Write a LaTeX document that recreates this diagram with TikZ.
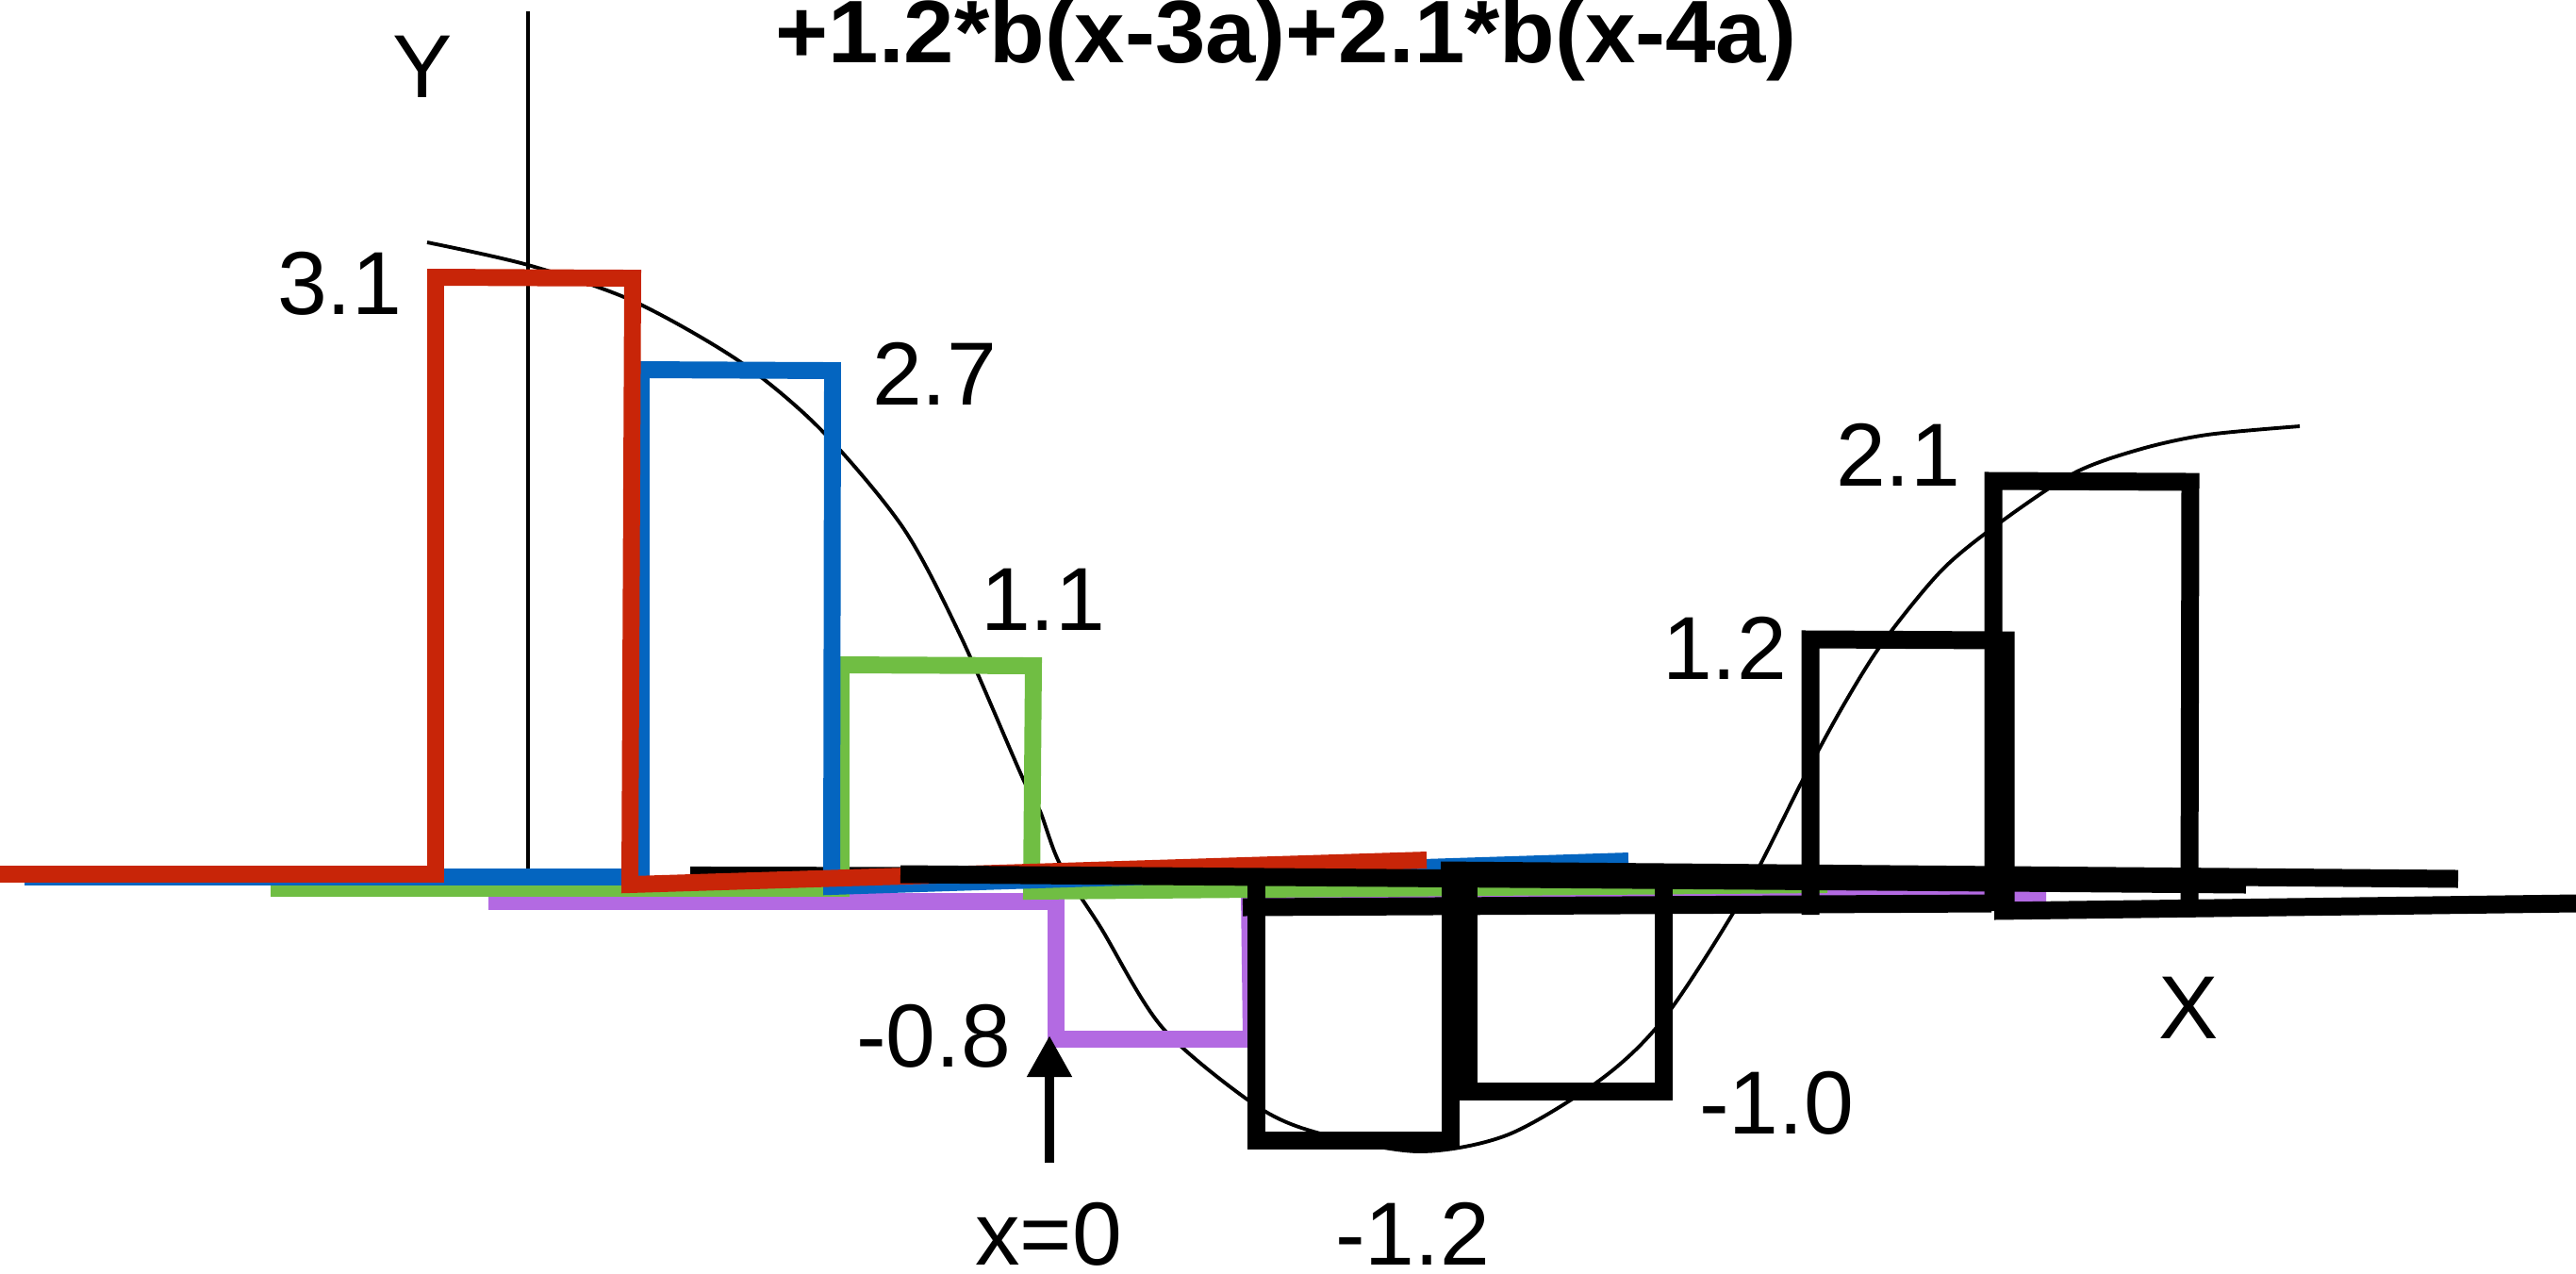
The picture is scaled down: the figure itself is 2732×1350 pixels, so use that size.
\documentclass[tikz,border=0pt]{standalone}
\usepackage{fontspec}
\setmainfont{Liberation Sans}
\usetikzlibrary{arrows.meta}
\definecolor{cred}{RGB}{200,37,8}
\definecolor{cblue}{RGB}{4,101,192}
\definecolor{cgreen}{RGB}{112,190,67}
\definecolor{cpurple}{RGB}{179,106,226}
\tikzset{
  lbl/.style={font=\fontsize{27}{32}\selectfont, inner sep=0pt, anchor=base},
  ttl/.style={font=\fontsize{25.5}{30}\selectfont\bfseries, inner sep=0pt, anchor=base},
  stepline/.style={line width=5.1pt, line join=miter},
  blackstep/.style={line width=5.4pt, line join=miter, black},
  thinline/.style={line width=1.1pt, black},
  pointer/.style={line width=3.1pt, -{Triangle[length=0.44cm,width=0.45cm]}}
}
\begin{document}
\begin{tikzpicture}[x=0.01cm,y=-0.01cm]
\useasboundingbox (0,0) rectangle (2732,1350);
\fill[white] (0,0) rectangle (2732,1350);

% axis and curve
\draw[thinline] (560,12) -- (560,946);
\draw[thinline] plot[smooth, tension=0.5] coordinates {
 (453,257) (560,281) (671,319) (784,383) (871,456) (958,560) (1019,675)
 (1085,826) (1103,860) (1124,916) (1167,983) (1233,1090) (1333,1173) (1400,1202)
 (1505,1221) (1600,1203) (1700,1143) (1767,1077) (1850,948) (1913,825)
 (1955,748) (1997,681) (2060,604) (2124,552) (2201,501) (2271,476) (2341,461) (2439,452)};

% thin black start of baseline
\draw[line width=2.6pt] (732,923.5) -- (955,924);

% purple step (-0.8)
\draw[stepline, cpurple] (518,956) -- (1120,956) -- (1120,1102) -- (1327,1102) -- (1325,950) -- (2170,953);
% green step (1.1)
\draw[stepline, cgreen] (287,942) -- (892,942) -- (892,705) -- (1096,706) -- (1094,945) -- (1938,938);
% blue step (2.7)
\draw[stepline, cblue] (26,930) -- (680,930) -- (680,392) -- (883,393) -- (882,940) -- (1727,913);
% red step (3.1)
\draw[stepline, cred] (0,927) -- (462,927) -- (462,294) -- (671,295) -- (668,938) -- (1513,912);

% black steps (-1.2, -1.0)
\draw[blackstep] (955,927) -- (2382,938);
\draw[blackstep] (1528,923) -- (2607,932);
\draw[blackstep] (1332,928) -- (1332,1209) -- (1538,1209) -- (1538,925);
\draw[blackstep] (1557,927) -- (1557,1157) -- (1764,1157) -- (1764,918);
% black steps (1.2, 2.1)
\draw[blackstep] (1318,962) -- (2112,958);
\draw[blackstep] (2115,966) -- (2732,958);
\draw[blackstep] (1920,970) -- (1920,678) -- (2127,679) -- (2127,968);
\draw[blackstep] (2114,966) -- (2114,510) -- (2323,511) -- (2322,968);

% arrow at x=0
\coordinate (arrowfoot) at (1113,1233);
\coordinate (arrowtip) at (1113,1098);
\draw[pointer] (arrowfoot) -- (arrowtip);

% labels
\node[ttl] (title) at (1364,66) {\scalebox{1.07}[1.05]{+1.2*b(x-3a)+2.1*b(x-4a)}};
\node[lbl] (ylab) at (448,103) {Y};
\node[lbl] (xlab) at (2321,1101) {X};
\node[lbl] (l31) at (360,333) {3.1};
\node[lbl] (l27) at (991,429) {2.7};
\node[lbl] (l11) at (1106,668) {1.1};
\node[lbl] (l08) at (990,1131) {-0.8};
\node[lbl] (l12n) at (1498,1341) {-1.2};
\node[lbl] (l10n) at (1884,1202) {-1.0};
\node[lbl] (l12) at (1829,720) {1.2};
\node[lbl] (l21) at (2013,515) {2.1};
\node[lbl] (x0) at (1112,1341) {x=0};
\end{tikzpicture}
\end{document}
